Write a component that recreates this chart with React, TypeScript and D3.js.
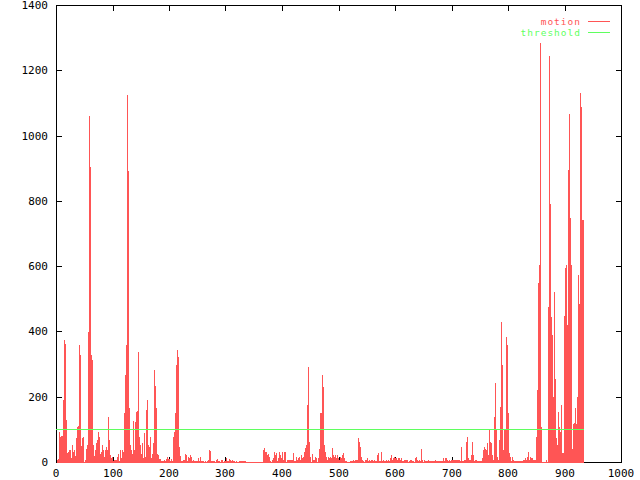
import React from "react";
import * as d3 from "d3";

// Motion samples (one per sample interval of the x axis)
const sampleInterval = 1.77;
const motion: number[] = [
  5,5,8,93,78,80,80,190,373,362,
  129,27,30,37,37,11,52,32,37,18,
  73,107,109,358,327,48,73,78,0,5,
  40,52,399,1060,904,327,312,52,18,37,
  57,67,93,78,25,32,52,37,16,37,
  45,37,137,67,22,11,16,3,6,5,
  5,16,25,3,37,11,37,32,150,266,
  358,1124,891,165,52,37,25,127,37,123,
  154,156,338,78,52,25,57,11,90,16,
  159,190,52,47,78,11,25,57,282,233,
  164,25,21,8,10,4,3,3,6,2,
  8,16,8,8,3,8,2,78,93,149,
  297,343,323,47,19,2,2,6,6,25,
  21,4,16,11,21,16,4,5,3,3,
  2,2,11,2,15,4,2,2,0,4,
  0,4,5,37,35,2,2,2,2,0,
  6,8,4,2,0,6,6,0,4,2,
  11,4,2,8,6,2,6,2,2,0,
  2,0,0,3,3,3,3,3,3,3,
  0,0,0,0,0,0,0,0,0,0,
  0,0,0,0,0,0,0,38,42,32,
  32,21,25,16,2,0,6,11,32,21,
  28,2,11,32,21,11,32,6,32,32,
  0,6,6,6,6,5,5,28,2,2,
  16,6,11,16,6,21,11,16,32,42,
  52,175,290,60,16,0,24,6,6,16,
  11,0,11,40,150,150,265,230,52,32,
  16,6,16,11,16,11,42,21,16,21,
  11,21,11,6,16,11,21,27,11,4,
  2,1,0,1,2,3,3,6,3,6,
  6,6,75,60,45,16,5,3,0,6,
  6,11,3,6,3,6,6,3,6,3,
  2,21,27,3,2,32,2,6,2,2,
  6,3,6,3,11,21,6,11,16,11,
  11,6,11,11,6,11,3,3,6,6,
  6,6,0,3,6,6,3,3,0,11,
  16,6,3,6,3,40,6,0,6,2,
  3,2,6,2,2,2,2,2,2,6,
  2,2,2,2,2,2,2,11,2,11,
  11,6,2,6,2,6,6,6,6,6,
  6,6,6,6,3,47,3,2,6,6,
  62,78,11,6,6,21,62,21,2,6,
  6,2,2,2,2,2,11,37,47,40,
  37,57,21,100,62,57,21,6,139,241,
  100,16,6,67,169,428,297,37,100,100,
  384,358,150,27,16,2,16,6,2,2,
  2,2,2,2,2,2,2,6,6,11,
  6,16,32,6,16,11,11,6,6,6,
  77,220,548,603,1284,107,0,0,0,0,
  6,0,476,1244,790,445,389,200,522,254,
  72,52,152,107,91,175,29,29,447,595,
  605,420,894,1066,747,604,40,115,120,165,
  115,200,572,484,1130,1087,741,741,
];
const thresholdValue = 100;
const xTickValues = [0, 100, 200, 300, 400, 500, 600, 700, 800, 900, 1000];
const yTickValues = [0, 200, 400, 600, 800, 1000, 1200, 1400];
const seriesNames = ["motion", "threshold"];

const W = 640;
const H = 480;
const left = 56;
const right = 621;
const top = 5;
const bottom = 462;
const tickLen = 6;
const motionColor = "#ff5555";
const thresholdColor = "#5fff5f";
const font = "'DejaVu Sans Mono', 'Liberation Mono', monospace";

export default function App() {
  const x = d3.scaleLinear().domain([0, 1000]).range([left, right]);
  const y = d3.scaleLinear().domain([0, 1400]).range([bottom, top]);

  const bars = motion.map((v, i) => {
    const xv = i * sampleInterval;
    const x0 = Math.round(x(xv));
    const x1 = Math.round(x(xv + sampleInterval));
    const yt = Math.round(y(v));
    return { x: x0, w: Math.max(1, x1 - x0), y: yt, h: bottom + 1 - yt };
  });

  const lastX = motion.length * sampleInterval;
  const thrY = Math.floor(y(thresholdValue)) + 0.5;

  return (
    <div style={{ position: "absolute", left: 0, top: 0 }}>
      <svg width={W} height={H} style={{ display: "block", background: "#fff" }}>
        <g shapeRendering="crispEdges" stroke="#000" strokeWidth={1}>
          {/* frame */}
          <line x1={left} x2={right + 1} y1={top + 0.5} y2={top + 0.5} />
          <line x1={left} x2={right + 1} y1={bottom + 0.5} y2={bottom + 0.5} />
          <line x1={right + 0.5} x2={right + 0.5} y1={top} y2={bottom + 1} />
          {/* x ticks bottom and top */}
          {xTickValues.map((t) => {
            const px = Math.round(x(t)) + 0.5;
            return (
              <g key={"xt" + t}>
                <line x1={px} x2={px} y1={bottom + 1} y2={bottom + 1 - tickLen} />
                <line x1={px} x2={px} y1={top} y2={top + tickLen} />
              </g>
            );
          })}
          {/* y ticks left and right */}
          {yTickValues.map((t) => {
            const py = Math.round(y(t)) + 0.5;
            return (
              <g key={"yt" + t}>
                <line x1={left} x2={left + tickLen} y1={py} y2={py} />
                <line x1={right + 1} x2={right + 1 - tickLen} y1={py} y2={py} />
              </g>
            );
          })}
        </g>

        {/* motion bars */}
        <g fill={motionColor} shapeRendering="crispEdges">
          {bars.map((b, i) => (
            <rect key={i} x={b.x} y={b.y} width={b.w} height={b.h} />
          ))}
        </g>

        {/* left axis line on top */}
        <line
          x1={left + 0.5}
          x2={left + 0.5}
          y1={top}
          y2={bottom + 1}
          stroke="#000"
          strokeWidth={1}
          shapeRendering="crispEdges"
        />

        {/* threshold */}
        <line
          x1={Math.round(x(0))}
          x2={Math.round(x(lastX))}
          y1={thrY}
          y2={thrY}
          stroke={thresholdColor}
          strokeWidth={1}
          shapeRendering="crispEdges"
        />

        {/* tick labels */}
        <g fontFamily={font} fontSize={11} fill="#000">
          {yTickValues.map((t) => (
            <text key={"yl" + t} x={48} y={Math.round(y(t))} textAnchor="end" dominantBaseline="central">
              {t}
            </text>
          ))}
          {xTickValues.map((t) => (
            <text key={"xl" + t} x={Math.round(x(t))} y={473} textAnchor="middle" dominantBaseline="central">
              {t}
            </text>
          ))}
        </g>

        {/* legend */}
        <g fontFamily={font} fontSize={9.5} letterSpacing={1}>
          {seriesNames.map((name, i) => {
            const color = i === 0 ? motionColor : thresholdColor;
            const ly = 21.5 + i * 11;
            return (
              <g key={name}>
                <text x={581} y={ly} textAnchor="end" dominantBaseline="central" fill={color}>
                  {name}
                </text>
                <line x1={588} x2={610} y1={ly} y2={ly} stroke={color} strokeWidth={1} shapeRendering="crispEdges" />
              </g>
            );
          })}
        </g>
      </svg>
    </div>
  );
}
